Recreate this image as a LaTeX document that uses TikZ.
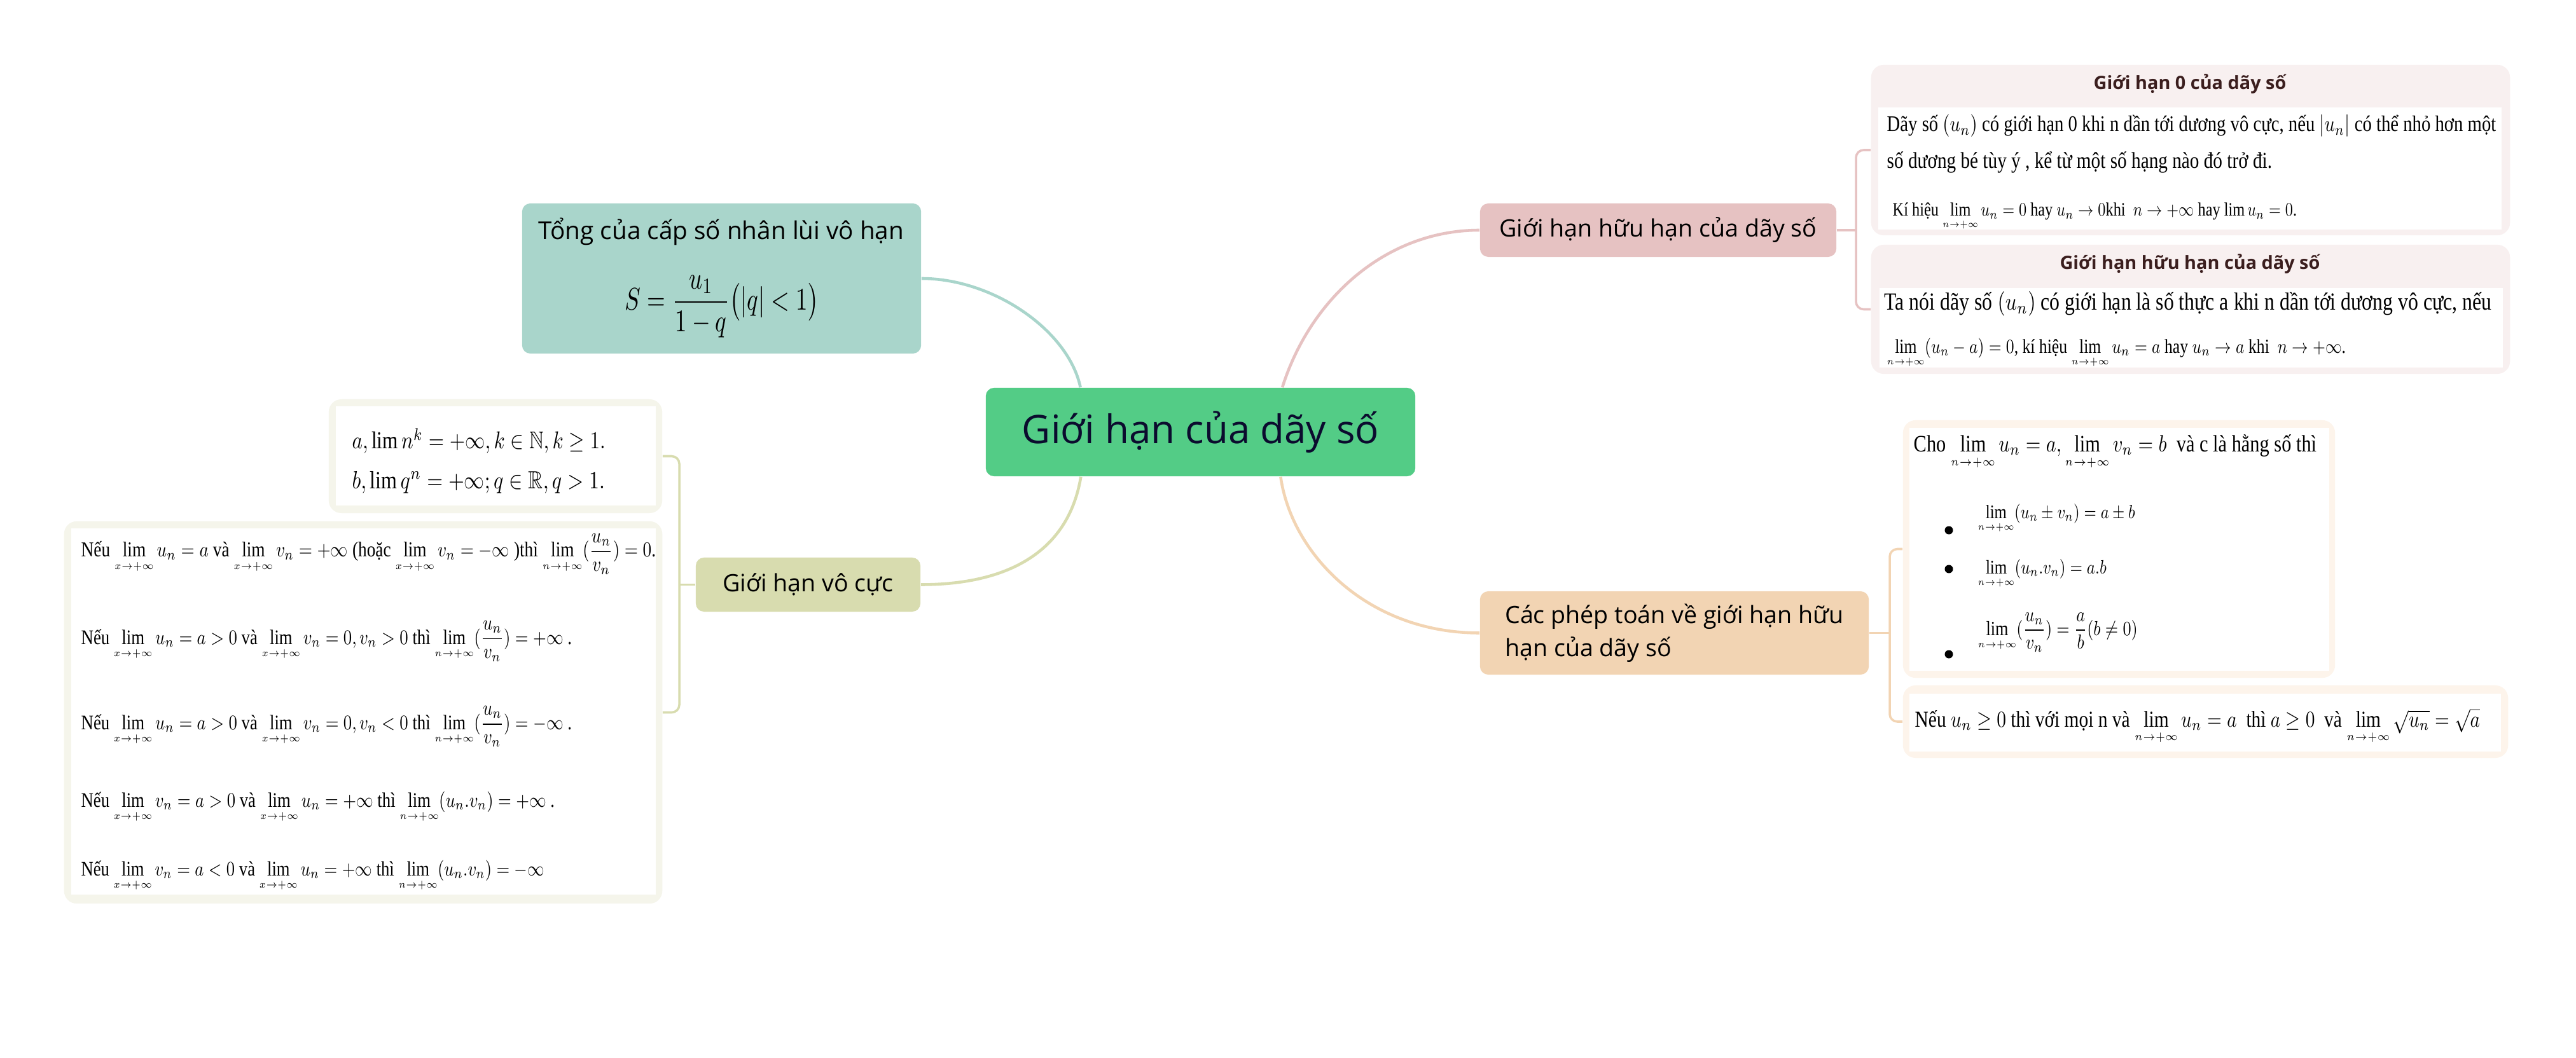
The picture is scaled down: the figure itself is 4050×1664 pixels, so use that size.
\documentclass[tikz,border=0pt]{standalone}
\usepackage{amsmath,amssymb}
\usepackage{graphicx}
\usepackage{fontspec}
\setmainfont{Liberation Serif}
\newfontfamily\osans{Open Sans}
\usetikzlibrary{calc}
\definecolor{cgreen}{HTML}{53CC86}
\definecolor{cteal}{HTML}{A9D5CB}
\definecolor{cpink}{HTML}{E6C2C2}
\definecolor{colive}{HTML}{D8DCAF}
\definecolor{corange}{HTML}{F2D4B3}
\definecolor{cpinkbg}{HTML}{F8F0F0}
\definecolor{corangebg}{HTML}{FDF4EB}
\definecolor{colivebg}{HTML}{F5F5EB}
\definecolor{ctitle}{HTML}{3B1E1E}
\definecolor{croottext}{HTML}{0B0B2E}
\tikzset{
  topic/.style={rounded corners=0.13cm, inner sep=0pt, align=center},
  boxouter/.style={rounded corners=0.2cm, inner sep=0pt},
  boxinner/.style={fill=white, inner sep=0pt},
  txt/.style={inner sep=0pt, anchor=base west},
  curve/.style={line width=1.3pt},
  bracketline/.style={line width=1pt, rounded corners=0.12cm},
  bulletdot/.style={circle, fill=black, inner sep=0pt, minimum size=0.13cm},
  branchfont/.style={font=\osans\fontsize{10.7pt}{14.8pt}\selectfont},
  titlefont/.style={font=\osans\bfseries\fontsize{8.2pt}{10pt}\selectfont, text=ctitle},
}
\newcommand\fitw[2]{\resizebox{#1cm}{!}{\scalebox{0.82}[1]{#2}}}
\newcommand\Lim[1]{\lim\limits_{\scriptscriptstyle #1}}
\newcommand\ninf{n\to+\infty}
\newcommand\xinf{x\to+\infty}
\begin{document}
\begin{tikzpicture}[x=0.01cm,y=-0.01cm]
\path[use as bounding box, fill=white] (0,0) rectangle (4050,1664);

% ---------- main topic and branches ----------
\node[topic, fill=cgreen, minimum width=6.75cm, minimum height=1.39cm, text=croottext,
      font=\osans\fontsize{17.6pt}{21pt}\selectfont] (root) at (1887.5,679.5) {Giới hạn của dãy số};

\node[topic, fill=cteal, minimum width=6.27cm, minimum height=2.36cm] (teal) at (1134.5,438) {};
\node[inner sep=0pt, font=\osans\fontsize{11pt}{13pt}\selectfont] (tealtitle) at (1134,364) {Tổng của cấp số nhân lùi vô hạn};
\node[inner sep=0pt] (tealformula) at (1135,482) {\resizebox*{3.04cm}{0.98cm}{$S=\dfrac{u_1}{1-q}\bigl(|q|<1\bigr)$}};

\node[topic, fill=cpink, minimum width=5.6cm, minimum height=0.84cm, branchfont] (pink) at (2607,362) {Giới hạn hữu hạn của dãy số};
\node[topic, fill=colive, minimum width=3.53cm, minimum height=0.85cm, branchfont] (olive) at (1270.5,919.5) {Giới hạn vô cực};
\node[topic, fill=corange, minimum width=6.11cm, minimum height=1.31cm, branchfont, align=left] (orange) at (2632.5,995.5) {Các phép toán về giới hạn hữu\\hạn của dãy số};

% ---------- curved connectors ----------
\draw[curve, cteal] ($(root.north west)!0.221!(root.north east)$) .. controls +(-19,-90) and +(112,0) .. (teal.east);
\draw[curve, cpink] ($(root.north west)!0.69!(root.north east)$) .. controls +(44,-140) and +(-147,0) .. (pink.west);
\draw[curve, colive] ($(root.south west)!0.222!(root.south east)$) .. controls +(-20,121) and +(133,0) .. (olive.east);
\draw[curve, corange] ($(root.south west)!0.686!(root.south east)$) .. controls +(17,121) and +(-177,0) .. (orange.west);

% ---------- right top boxes ----------
\node[boxouter, fill=cpinkbg, minimum width=10.04cm, minimum height=2.68cm] (r1) at (3444,236) {};
\node[boxinner, minimum width=9.8cm, minimum height=1.92cm] (r1in) at (3443,265) {};
\node[titlefont, inner sep=0pt] (r1t) at (3443,132) {Giới hạn 0 của dãy số};
\node[txt] (r1a) at (2966,207) {\fitw{9.57}{Dãy số $(u_n)$ có giới hạn 0 khi n dần tới dương vô cực, nếu $|u_n|$ có thể nhỏ hơn một}};
\node[txt] (r1b) at (2966,265) {\fitw{6.05}{số dương bé tùy ý , kể từ một số hạng nào đó trở đi.}};
\node[txt] (r1c) at (2975,340) {\fitw{6.35}{Kí hiệu $\Lim{\ninf}u_n=0$ hay $u_n\to0$khi \ $n\to+\infty$ hay $\lim u_n=0$.}};

\node[boxouter, fill=cpinkbg, minimum width=10.04cm, minimum height=2.03cm] (r2) at (3444,486.5) {};
\node[boxinner, minimum width=9.8cm, minimum height=1.25cm] (r2in) at (3445,515.5) {};
\node[titlefont, inner sep=0pt] (r2t) at (3443,415) {Giới hạn hữu hạn của dãy số};
\node[txt] (r2a) at (2962,488) {\fitw{9.54}{Ta nói dãy số $(u_n)$ có giới hạn là số thực a khi n dần tới dương vô cực, nếu}};
\node[txt] (r2b) at (2966,555) {\fitw{7.21}{$\Lim{\ninf}(u_n-a)=0$, kí hiệu $\Lim{\ninf}u_n=a$ hay $u_n\to a$ khi \ $n\to+\infty$.}};

\coordinate (pb) at (2918,362);
\draw[bracketline, cpink] (pink.east) -- (pb);
\draw[bracketline, cpink] (r1.west) -- (2918,236) -- (2918,486.5) -- (r2.west);

% ---------- right bottom boxes ----------
\node[boxouter, fill=corangebg, minimum width=6.79cm, minimum height=4.05cm] (r3) at (3331.5,863.5) {};
\node[boxinner, minimum width=6.6cm, minimum height=3.82cm] (r3in) at (3332,864) {};
\node[txt] (r3a) at (3008,710) {\fitw{6.33}{Cho $\Lim{\ninf}u_n=a, \Lim{\ninf}v_n=b$ \ và c là hằng số thì}};
\node[txt] (r3b) at (3109,815) {\fitw{2.47}{$\Lim{\ninf}(u_n\pm v_n)=a\pm b$}};
\node[txt] (r3c) at (3109,902) {\fitw{2.02}{$\Lim{\ninf}(u_n.v_n)=a.b$}};
\node[txt] (r3d) at (3109,999) {\fitw{2.51}{$\Lim{\ninf}(\dfrac{u_n}{v_n})=\dfrac{a}{b}(b\neq0)$}};
\node[bulletdot] (d1) at (3064,834) {};
\node[bulletdot] (d2) at (3064,895) {};
\node[bulletdot] (d3) at (3064,1029) {};

\node[boxouter, fill=corangebg, minimum width=9.51cm, minimum height=1.14cm] (r4) at (3467.5,1135) {};
\node[boxinner, minimum width=9.3cm, minimum height=0.91cm] (r4in) at (3467,1136.5) {};
\node[txt] (r4a) at (3010,1143) {\fitw{8.88}{Nếu $u_n\ge0$ thì với mọi n và $\Lim{\ninf}u_n=a$ \ thì $a\ge0$ \ và $\Lim{\ninf}\sqrt{u_n}=\sqrt{a}$}};

\coordinate (ob) at (2971,995.5);
\draw[bracketline, corange] (orange.east) -- (ob);
\draw[bracketline, corange] (r3.west) -- (2971,863.5) -- (2971,1135) -- (r4.west);

% ---------- left boxes ----------
\node[boxouter, fill=colivebg, minimum width=5.24cm, minimum height=1.79cm] (l1) at (779,717.5) {};
\node[boxinner, minimum width=5.03cm, minimum height=1.56cm] (l1in) at (779.5,717) {};
\node[txt] (l1a) at (553,706) {\fitw{3.98}{$a,\lim n^k=+\infty, k\in\mathbb{N}, k\ge1.$}};
\node[txt] (l1b) at (553,768) {\fitw{3.97}{$b,\lim q^n=+\infty; q\in\mathbb{R}, q>1.$}};

\node[boxouter, fill=colivebg, minimum width=9.4cm, minimum height=6.01cm] (l2) at (571,1120.5) {};
\node[boxinner, minimum width=9.19cm, minimum height=5.76cm] (l2in) at (571.5,1119) {};
\node[txt] (l2a) at (127,876) {\fitw{9.03}{Nếu $\Lim{\xinf}u_n=a$ và $\Lim{\xinf}v_n=+\infty$ (hoặc $\Lim{\xinf}v_n=-\infty$ )thì $\Lim{\ninf}(\dfrac{u_n}{v_n})=0$.}};
\node[txt] (l2b) at (127,1013) {\fitw{7.71}{Nếu $\Lim{\xinf}u_n=a>0$ và $\Lim{\xinf}v_n=0, v_n>0$ thì $\Lim{\ninf}(\dfrac{u_n}{v_n})=+\infty$ .}};
\node[txt] (l2c) at (127,1147) {\fitw{7.71}{Nếu $\Lim{\xinf}u_n=a>0$ và $\Lim{\xinf}v_n=0, v_n<0$ thì $\Lim{\ninf}(\dfrac{u_n}{v_n})=-\infty$ .}};
\node[txt] (l2d) at (127,1269) {\fitw{7.44}{Nếu $\Lim{\xinf}v_n=a>0$ và $\Lim{\xinf}u_n=+\infty$ thì $\Lim{\ninf}(u_n.v_n)=+\infty$ .}};
\node[txt] (l2e) at (127,1377) {\fitw{7.28}{Nếu $\Lim{\xinf}v_n=a<0$ và $\Lim{\xinf}u_n=+\infty$ thì $\Lim{\ninf}(u_n.v_n)=-\infty$}};

\coordinate (vb) at (1068,919.5);
\draw[bracketline, colive] (olive.west) -- (vb);
\draw[bracketline, colive] (l1.east) -- (1068,717.5) -- (1068,1120.5) -- (l2.east);
\end{tikzpicture}
\end{document}
